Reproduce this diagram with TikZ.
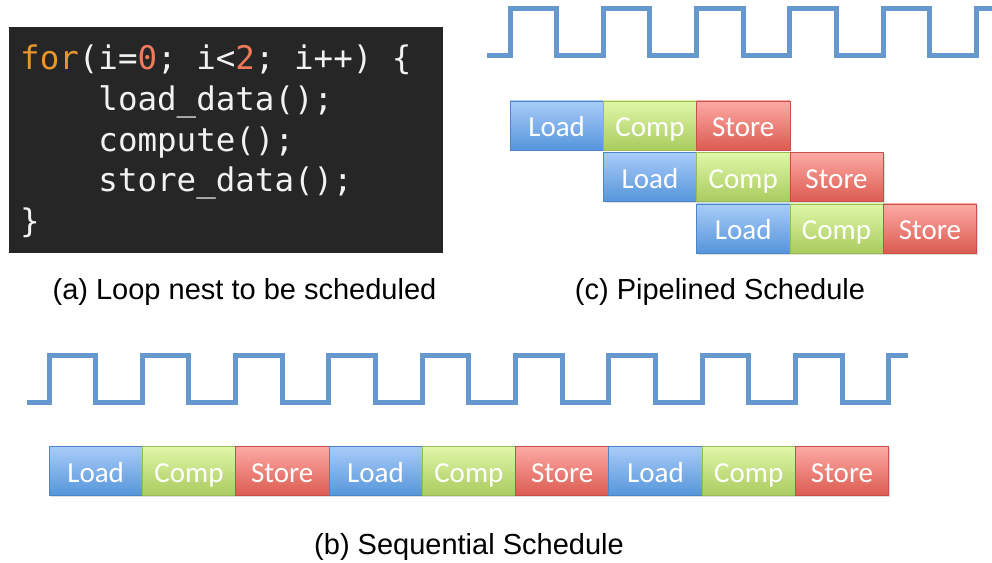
\documentclass[tikz,border=0pt]{standalone}
\usepackage{fontspec}
\setmainfont{Liberation Sans}
\newfontfamily\codefont{DejaVu Sans Mono}
\newfontfamily\taskfont{Carlito}
\usetikzlibrary{shadows}

\definecolor{codebg}{HTML}{262626}
\definecolor{codefg}{HTML}{F2F2F2}
\definecolor{keyword}{HTML}{E6952F}
\definecolor{number}{HTML}{F07A5A}
\definecolor{clockblue}{HTML}{6598CC}
\definecolor{loadtop}{HTML}{A9CCF9}
\definecolor{loadbot}{HTML}{5595DA}
\definecolor{loadline}{HTML}{4A86C8}
\definecolor{comptop}{HTML}{E0F7A8}
\definecolor{compbot}{HTML}{A9CB5E}
\definecolor{compline}{HTML}{98BB55}
\definecolor{storetop}{HTML}{FDAAA5}
\definecolor{storebot}{HTML}{DB5B50}
\definecolor{storeline}{HTML}{C9504A}

\newcommand{\us}{\symbol{95}}

\begin{document}
\begin{tikzpicture}[
    x=1bp, y=-1bp,
    task/.style={rectangle, draw, line width=0.8bp, inner sep=0pt,
        minimum width=93.3bp, minimum height=49bp,
        text height=23bp, text depth=0pt, text=white,
        font=\taskfont\fontsize{29bp}{29bp}\selectfont,
        drop shadow={opacity=0.25, shadow xshift=1.5bp, shadow yshift=-1.5bp}},
    loadbox/.style={task, draw=loadline, top color=loadtop, bottom color=loadbot},
    compbox/.style={task, draw=compline, top color=comptop, bottom color=compbot},
    storebox/.style={task, draw=storeline, top color=storetop, bottom color=storebot},
    code/.style={anchor=base west, inner sep=0pt, text=codefg,
        font=\codefont\fontsize{32.5bp}{40bp}\selectfont},
    caption/.style={anchor=base, inner sep=0pt,
        font=\fontsize{29bp}{29bp}\selectfont},
    clock/.style={draw=clockblue, line width=5bp, line join=miter}
]
\useasboundingbox (0,0) rectangle (992,563);

% (a) loop nest
\node[fill=codebg, minimum width=434bp, minimum height=226bp, inner sep=0pt] (codebox) at (226,140) {};
\node[code] (code1) at (20,70) {\textcolor{keyword}{for}(i=\textcolor{number}{0}; i<\textcolor{number}{2}; i++) \{};
\node[code] (code2) at (20,110.7) {\phantom{0000}load\us data();};
\node[code] (code3) at (20,151.3) {\phantom{0000}compute();};
\node[code] (code4) at (20,192) {\phantom{0000}store\us data();};
\node[code] (code5) at (20,232.7) {\}};
\node[caption] (capA) at (244.5,299) {(a) Loop nest to be scheduled};

% (c) pipelined clock
\draw[clock] (487,56) foreach \k in {0,...,4} {
    -- ({510+\k*93.3},56) -- ({510+\k*93.3},9)
    -- ({556.65+\k*93.3},9) -- ({556.65+\k*93.3},56) }
    -- (976.5,56) -- (976.5,9) -- (992,9);

% (c) pipelined tasks
\node[loadbox] (pLoadA) at (556.65,125.5) {Load};
\node[compbox] (pCompA) at (649.95,125.5) {Comp};
\node[storebox] (pStoreA) at (743.25,125.5) {Store};
\node[loadbox] (pLoadB) at (649.95,177) {Load};
\node[compbox] (pCompB) at (743.25,177) {Comp};
\node[storebox] (pStoreB) at (836.55,177) {Store};
\node[loadbox] (pLoadC) at (743.25,228.5) {Load};
\node[compbox] (pCompC) at (836.55,228.5) {Comp};
\node[storebox] (pStoreC) at (929.85,228.5) {Store};
\node[caption] (capC) at (720,299) {(c) Pipelined Schedule};

% (b) sequential clock
\draw[clock] (27,402) foreach \k in {0,...,8} {
    -- ({49+\k*93.3},402) -- ({49+\k*93.3},355)
    -- ({95.65+\k*93.3},355) -- ({95.65+\k*93.3},402) }
    -- (888.7,402) -- (888.7,355) -- (908,355);

% (b) sequential tasks
\node[loadbox] (sLoadA) at (95.65,471) {Load};
\node[compbox] (sCompA) at (188.95,471) {Comp};
\node[storebox] (sStoreA) at (282.25,471) {Store};
\node[loadbox] (sLoadB) at (375.55,471) {Load};
\node[compbox] (sCompB) at (468.85,471) {Comp};
\node[storebox] (sStoreB) at (562.15,471) {Store};
\node[loadbox] (sLoadC) at (655.45,471) {Load};
\node[compbox] (sCompC) at (748.75,471) {Comp};
\node[storebox] (sStoreC) at (842.05,471) {Store};
\node[caption] (capB) at (469,554) {(b) Sequential Schedule};

\end{tikzpicture}
\end{document}
